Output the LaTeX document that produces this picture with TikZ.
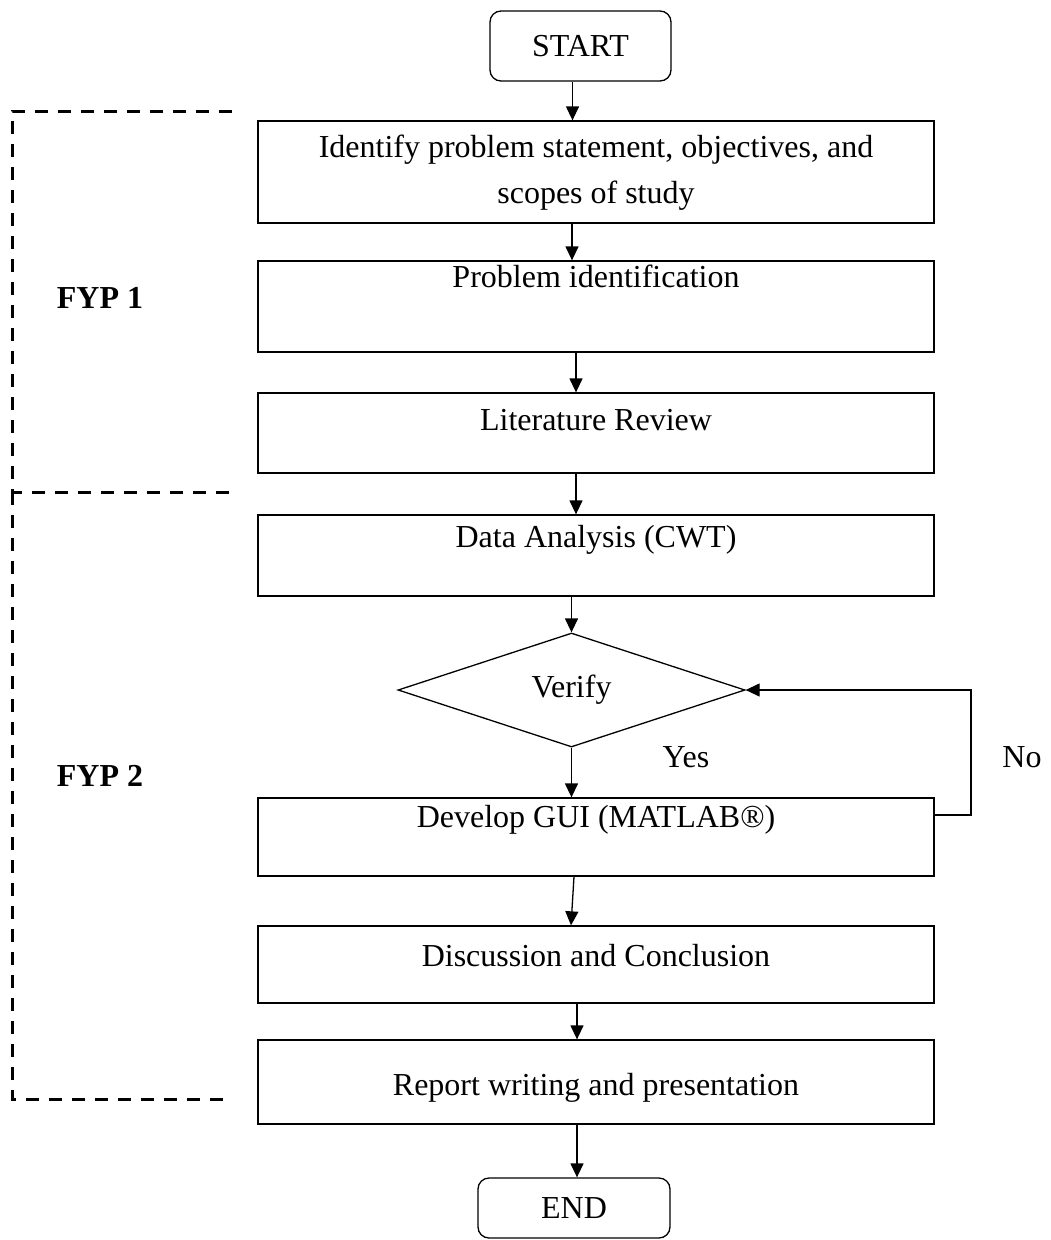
\documentclass[tikz,border=0pt]{standalone}
\usepackage{fontspec}
\setmainfont{Liberation Serif}
\usetikzlibrary{shapes.geometric,arrows.meta}

\tikzset{
  stepbox/.style={draw, line width=1.3pt, minimum width=676pt, inner sep=0pt},
  termbox/.style={draw, line width=1.3pt, rounded corners=11pt, inner sep=0pt, align=center},
  decide/.style={draw, diamond, line width=1.3pt, inner sep=0pt, aspect=3,
                 minimum width=347pt, minimum height=114pt},
  txt/.style={align=center, inner sep=0pt},
  phase/.style={draw, line width=3pt, dash pattern=on 13pt off 10pt},
  flow/.style={line width=1.3pt, -{Triangle[length=14pt,width=13pt]}},
  lbl/.style={inner sep=0pt, font=\fontsize{32}{40}\bfseries\selectfont}
}

\begin{document}
\begin{tikzpicture}[x=1pt, y=-1pt, font=\fontsize{32}{46}\selectfont]
\useasboundingbox (0,0) rectangle (1051,1240);

% terminals
\node[termbox, minimum width=181pt, minimum height=70pt] (start) at (580.5,46) {START};
\node[termbox, minimum width=192pt, minimum height=60pt] (end) at (574,1208) {END};

% process boxes (frames), text placed separately near the top
\node[stepbox, minimum height=102pt] (b1) at (596,172) {};
\node[stepbox, minimum height=91pt]  (b2) at (596,306.5) {};
\node[stepbox, minimum height=80pt]  (b3) at (596,433) {};
\node[stepbox, minimum height=81pt]  (b4) at (596,555.5) {};
\node[stepbox, minimum height=78pt]  (b5) at (596,837) {};
\node[stepbox, minimum height=77pt]  (b6) at (596,964.5) {};
\node[stepbox, minimum height=84pt]  (b7) at (596,1082) {};

\node[txt] (t1) at (596,173) {Identify problem statement, objectives, and\\scopes of study};
\node[txt] (t2) at (596,276) {Problem identification};
\node[txt] (t3) at (596,420) {Literature Review};
\node[txt] (t4) at (596,540) {Data Analysis (CWT)};
\node[txt] (t5) at (596,820) {Develop GUI (MATLAB®)};
\node[txt] (t6) at (596,956) {Discussion and Conclusion};
\node[txt] (t7) at (596,1088) {Report writing and presentation};

% decision
\node[decide] (ver) at (571.5,690) {Verify};
\node[txt] (yes) at (686,757) {Yes};
\node[txt] (no) at (1022,757) {No};

% phase brackets
\coordinate (p1a) at (232,111);
\coordinate (p1b) at (232,492);
\coordinate (p2b) at (232,1099);
\draw[phase] (p1a) -- (12,111) -- (12,492) -- (p1b);
\draw[phase] (12,492) -- (12,1099) -- (p2b);
\node[lbl] (fyp1) at (100,298) {FYP 1};
\node[lbl] (fyp2) at (100,776) {FYP 2};

% flow
\draw[flow] ([xshift=-8pt]start.south) -- ([xshift=-8pt]start.south |- b1.north);
\draw[flow] ([xshift=-24pt]b1.south) -- ([xshift=-24pt]b2.north);
\draw[flow] ([xshift=-20pt]b2.south) -- ([xshift=-20pt]b3.north);
\draw[flow] ([xshift=-20pt]b3.south) -- ([xshift=-20pt]b4.north);
\draw[flow] ([xshift=-24.5pt]b4.south) -- (ver.north);
\draw[flow] (ver.south) -- (ver.south |- b5.north);
\draw[flow] ([xshift=-22pt]b5.south) -- ([xshift=-25pt]b6.north);
\draw[flow] ([xshift=-19pt]b6.south) -- ([xshift=-19pt]b7.north);
\draw[flow] ([xshift=-19pt]b7.south) -- ([xshift=-19pt]b7.south |- end.north);

% loop back on "No"
\coordinate (loopc) at (971,690);
\draw[flow] ([yshift=22pt]b5.east) -| (loopc) -- (ver.east);
\end{tikzpicture}
\end{document}
